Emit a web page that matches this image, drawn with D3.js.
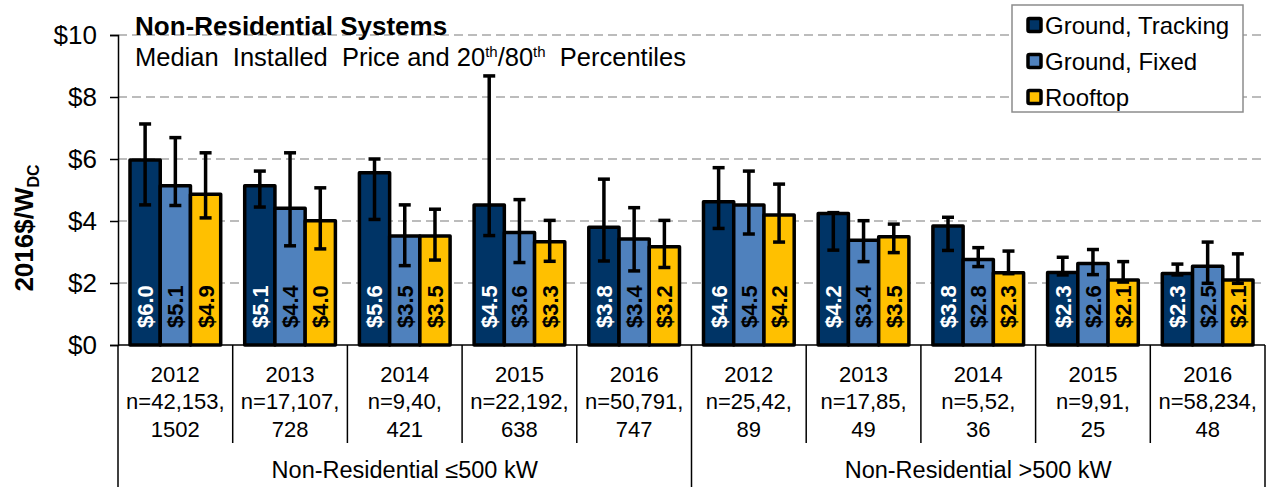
<!DOCTYPE html>
<html>
<head>
<meta charset="utf-8">
<script src="https://cdn.jsdelivr.net/npm/d3@7"></script>
<style>
    html, body { margin: 0; padding: 0; background: #fff; }
    svg { display: block; font-family: "Liberation Sans", Arial, sans-serif; }
    text { white-space: pre; }
</style>
</head>
<body>
<svg id="chart" width="1268" height="487"></svg>
<script>
// Chart data
const groups = ["Non-Residential \u2264500 kW", "Non-Residential >500 kW"];
const years = ["2012", "2013", "2014", "2015", "2016"];
const countLines = [
    ["n=42,153,", "1502"], ["n=17,107,", "728"], ["n=9,40,", "421"], ["n=22,192,", "638"], ["n=50,791,", "747"],
    ["n=25,42,", "89"], ["n=17,85,", "49"], ["n=5,52,", "36"], ["n=9,91,", "25"], ["n=58,234,", "48"]
];
const seriesNames = ["Ground, Tracking", "Ground, Fixed", "Rooftop"];
const seriesColors = ["#003466", "#4F81BD", "#FFC000"];
const labelColors = ["#ffffff", "#000000", "#000000"];

// medians ($/W)
const trackingMedian = [5.97, 5.14, 5.56, 4.52, 3.8, 4.62, 4.24, 3.84, 2.34, 2.31];
const fixedMedian = [5.14, 4.41, 3.52, 3.63, 3.42, 4.52, 3.38, 2.76, 2.63, 2.54];
const rooftopMedian = [4.86, 4.01, 3.52, 3.33, 3.17, 4.19, 3.49, 2.33, 2.1, 2.1];

// 20th percentile
const trackingP20 = [4.52, 4.45, 4.05, 3.53, 2.71, 3.76, 3.06, 3.05, 2.26, 2.26];
const fixedP20 = [4.5, 3.2, 2.56, 2.66, 2.39, 3.58, 2.69, 2.53, 2.27, 1.99];
const rooftopP20 = [4.1, 3.1, 2.74, 2.7, 2.5, 3.32, 2.98, 2.3, 2.03, 1.99];

// 80th percentile
const trackingP80 = [7.13, 5.61, 6.0, 8.68, 5.35, 5.72, 4.27, 4.12, 2.83, 2.61];
const fixedP80 = [6.69, 6.2, 4.52, 4.69, 4.43, 5.61, 4.01, 3.14, 3.08, 3.32];
const rooftopP80 = [6.2, 5.07, 4.38, 4.02, 4.02, 5.19, 3.9, 3.03, 2.69, 2.94];

const yTicks = [0, 2, 4, 6, 8, 10];

// Build one row per bar
const medians = [trackingMedian, fixedMedian, rooftopMedian];
const p20s = [trackingP20, fixedP20, rooftopP20];
const p80s = [trackingP80, fixedP80, rooftopP80];
const categories = d3.range(10).map(i => "c" + i);
const bars = [];
categories.forEach((c, i) => {
    seriesNames.forEach((s, j) => {
        bars.push({ cat: c, series: s, idx: j, value: medians[j][i], lo: p20s[j][i], hi: p80s[j][i] });
    });
});

const svg = d3.select("#chart");

const plotLeft = 118, plotRight = 1265, plotTop = 35, plotBottom = 345;

const x = d3.scaleBand().domain(categories).range([plotLeft, plotRight]).padding(0);
const xInner = d3.scaleBand().domain(seriesNames).range([12, x.bandwidth() - 12]).padding(0);
const y = d3.scaleLinear().domain([0, 10]).range([plotBottom, plotTop]);

// Gridlines (dashed)
svg.append("g")
    .selectAll("line")
    .data(yTicks.filter(t => t > 0))
    .enter().append("line")
    .attr("x1", plotLeft).attr("x2", plotRight)
    .attr("y1", d => y(d)).attr("y2", d => y(d))
    .attr("stroke", "#a6a6a6")
    .attr("stroke-width", 1.6)
    .attr("stroke-dasharray", "9,5");

// Y axis
const yAxis = d3.axisLeft(y)
    .tickValues(yTicks)
    .tickSize(8)
    .tickPadding(13)
    .tickFormat(d => "$" + d);
const yG = svg.append("g")
    .attr("transform", `translate(${plotLeft},0)`)
    .call(yAxis);
yG.select(".domain").attr("stroke", "#000").attr("stroke-width", 1.5);
yG.selectAll(".tick line").attr("stroke", "#000").attr("stroke-width", 1.5);
yG.selectAll(".tick text")
    .attr("font-size", 26)
    .attr("font-family", "Liberation Sans, Arial, sans-serif")
    .attr("fill", "#000");

// Y axis title with DC subscript
const yTitle = svg.append("text")
    .attr("transform", "translate(33,228) rotate(-90)")
    .attr("text-anchor", "middle")
    .attr("font-weight", "bold")
    .attr("font-size", 26);
yTitle.append("tspan").text("2016$/W");
yTitle.append("tspan").attr("font-size", 16).attr("dy", 6).text("DC");

// Bars
const barG = svg.append("g");
barG.selectAll("rect")
    .data(bars)
    .enter().append("rect")
    .attr("x", d => x(d.cat) + xInner(d.series))
    .attr("y", d => y(d.value))
    .attr("width", xInner.bandwidth())
    .attr("height", d => y(0) - y(d.value))
    .attr("fill", d => seriesColors[d.idx])
    .attr("stroke", "#000")
    .attr("stroke-width", 3.5)
    .attr("stroke-linejoin", "round");

// Value labels, rotated, inside the base of the bar
barG.selectAll("text")
    .data(bars)
    .enter().append("text")
    .attr("transform", d => {
        const cx = x(d.cat) + xInner(d.series) + xInner.bandwidth() / 2;
        return `translate(${cx},${plotBottom - 17}) rotate(-90)`;
    })
    .attr("dy", "0.36em")
    .attr("font-size", 22)
    .attr("font-weight", "bold")
    .attr("fill", d => labelColors[d.idx])
    .text(d => "$" + d.value.toFixed(1));

// Error bars (20th / 80th percentiles)
const errG = svg.append("g").attr("stroke", "#000").attr("stroke-width", 3.5);
const capHalf = 6;
bars.forEach(d => {
    const cx = x(d.cat) + xInner(d.series) + xInner.bandwidth() / 2;
    errG.append("line").attr("x1", cx).attr("x2", cx).attr("y1", y(d.hi)).attr("y2", y(d.lo));
    errG.append("line").attr("x1", cx - capHalf).attr("x2", cx + capHalf).attr("y1", y(d.hi)).attr("y2", y(d.hi));
    errG.append("line").attr("x1", cx - capHalf).attr("x2", cx + capHalf).attr("y1", y(d.lo)).attr("y2", y(d.lo));
});

// X axis line and category dividers
svg.append("line")
    .attr("x1", plotLeft).attr("x2", plotRight)
    .attr("y1", plotBottom).attr("y2", plotBottom)
    .attr("stroke", "#000").attr("stroke-width", 1.5);

const dividers = categories.map(c => x(c)).concat([plotRight]);
svg.append("g")
    .selectAll("line")
    .data(dividers)
    .enter().append("line")
    .attr("x1", d => d).attr("x2", d => d)
    .attr("y1", plotBottom)
    .attr("y2", (d, i) => (i % 5 === 0 ? 487 : 443))
    .attr("stroke", "#000").attr("stroke-width", 1.5);

// Category labels: year + sample counts
const catG = svg.append("g").attr("text-anchor", "middle").attr("font-size", 22);
categories.forEach((c, i) => {
    const cx = x(c) + x.bandwidth() / 2;
    catG.append("text").attr("x", cx).attr("y", 382).text(years[i % 5]);
    catG.append("text").attr("x", cx).attr("y", 409).text(countLines[i][0]);
    catG.append("text").attr("x", cx).attr("y", 437).text(countLines[i][1]);
});

// Group labels
svg.append("g")
    .selectAll("text")
    .data(groups)
    .enter().append("text")
    .attr("x", (d, i) => (x(categories[i * 5]) + (i === 0 ? x(categories[5]) : plotRight)) / 2)
    .attr("y", 478)
    .attr("text-anchor", "middle")
    .attr("font-size", 23.5)
    .text(d => d);

// Title block
svg.append("text")
    .attr("x", 135).attr("y", 35)
    .attr("font-size", 26)
    .attr("font-weight", "bold")
    .text("Non-Residential Systems");
const sub = svg.append("text")
    .attr("x", 135).attr("y", 66)
    .attr("font-size", 25.5);
sub.append("tspan").text("Median  Installed  Price and 20");
sub.append("tspan").attr("font-size", 15).attr("dy", -9).text("th");
sub.append("tspan").attr("dy", 9).text("/80");
sub.append("tspan").attr("font-size", 15).attr("dy", -9).text("th");
sub.append("tspan").attr("dy", 9).text("  Percentiles");

// Legend
const legend = svg.append("g");
legend.append("rect")
    .attr("x", 1012).attr("y", 5)
    .attr("width", 231).attr("height", 107)
    .attr("fill", "#fff")
    .attr("stroke", "#8c8c8c")
    .attr("stroke-width", 1.5);
const legendY = d3.scalePoint().domain(seriesNames).range([25, 97]);
seriesNames.forEach((s, j) => {
    legend.append("rect")
        .attr("x", 1028).attr("y", legendY(s) - 6.5)
        .attr("width", 13).attr("height", 13)
        .attr("rx", 1.5)
        .attr("fill", seriesColors[j])
        .attr("stroke", "#000")
        .attr("stroke-width", 3.5);
    legend.append("text")
        .attr("x", 1045).attr("y", legendY(s))
        .attr("dy", "0.36em")
        .attr("font-size", 24)
        .text(s);
});
</script>
</body>
</html>
